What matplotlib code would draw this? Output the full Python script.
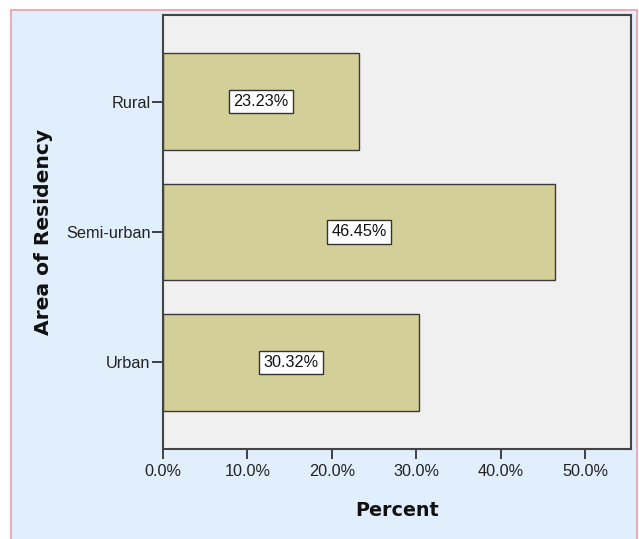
import matplotlib
matplotlib.use("Agg")
import matplotlib.pyplot as plt
from matplotlib.patches import Rectangle

categories = ["Rural", "Semi-urban", "Urban"]
percents = [23.23, 46.45, 30.32]
x_ticks = [0, 10, 20, 30, 40, 50]
x_tick_labels = ["0.0%", "10.0%", "20.0%", "30.0%", "40.0%", "50.0%"]

plt.rcParams["font.family"] = ["Liberation Sans", "DejaVu Sans"]

fig = plt.figure(figsize=(6.39, 5.39), dpi=100)
fig.patch.set_facecolor("white")

# chart frame: light blue panel with a thin pink border
frame = Rectangle((11 / 639, -0.01), (637 - 11) / 639, 1 - 10 / 539 + 0.01,
                  transform=fig.transFigure, facecolor="#e1eefb",
                  edgecolor="#f09aa5", linewidth=1.2, zorder=-10)
fig.patches.append(frame)

ax = fig.add_axes([163 / 639, 1 - 449 / 539, (631 - 163) / 639, (449 - 15) / 539])
ax.set_zorder(1)
ax.set_facecolor("#f0f0f0")

ypos = list(range(len(categories)))
ax.barh(ypos, percents, height=0.743, color="#d3cf98",
        edgecolor="#3a3a3a", linewidth=1.0, zorder=2)

for y, v in zip(ypos, percents):
    ax.text(v / 2, y, f"{v:.2f}%", ha="center", va="center", fontsize=11.7,
            color="#111111", zorder=3,
            bbox=dict(boxstyle="square,pad=0.27", facecolor="white",
                      edgecolor="#333333", linewidth=1.0))

ax.set_xlim(0, 55.45)
ax.set_ylim(2.663, -0.663)
ax.set_yticks(ypos)
ax.set_yticklabels(categories, fontsize=11.7, color="#222222")
ax.set_xticks(x_ticks)
ax.set_xticklabels(x_tick_labels, fontsize=11.7, color="#222222")
ax.tick_params(axis="x", length=7, width=1.3, color="#333333", pad=4)
ax.tick_params(axis="y", length=8, width=1.3, color="#333333", pad=1)

for s in ax.spines.values():
    s.set_color("#444444")
    s.set_linewidth(1.5)

ax.set_xlabel("Percent", fontsize=13.8, fontweight="bold",
              family="DejaVu Sans", color="#111111")
ax.set_ylabel("Area of Residency", fontsize=14.6, fontweight="bold",
              family="DejaVu Sans", color="#111111")
ax.xaxis.set_label_coords(0.5, -0.1207)
ax.yaxis.set_label_coords(-0.2355, 0.5)

fig.savefig("out.png", dpi=100, facecolor=fig.get_facecolor())
